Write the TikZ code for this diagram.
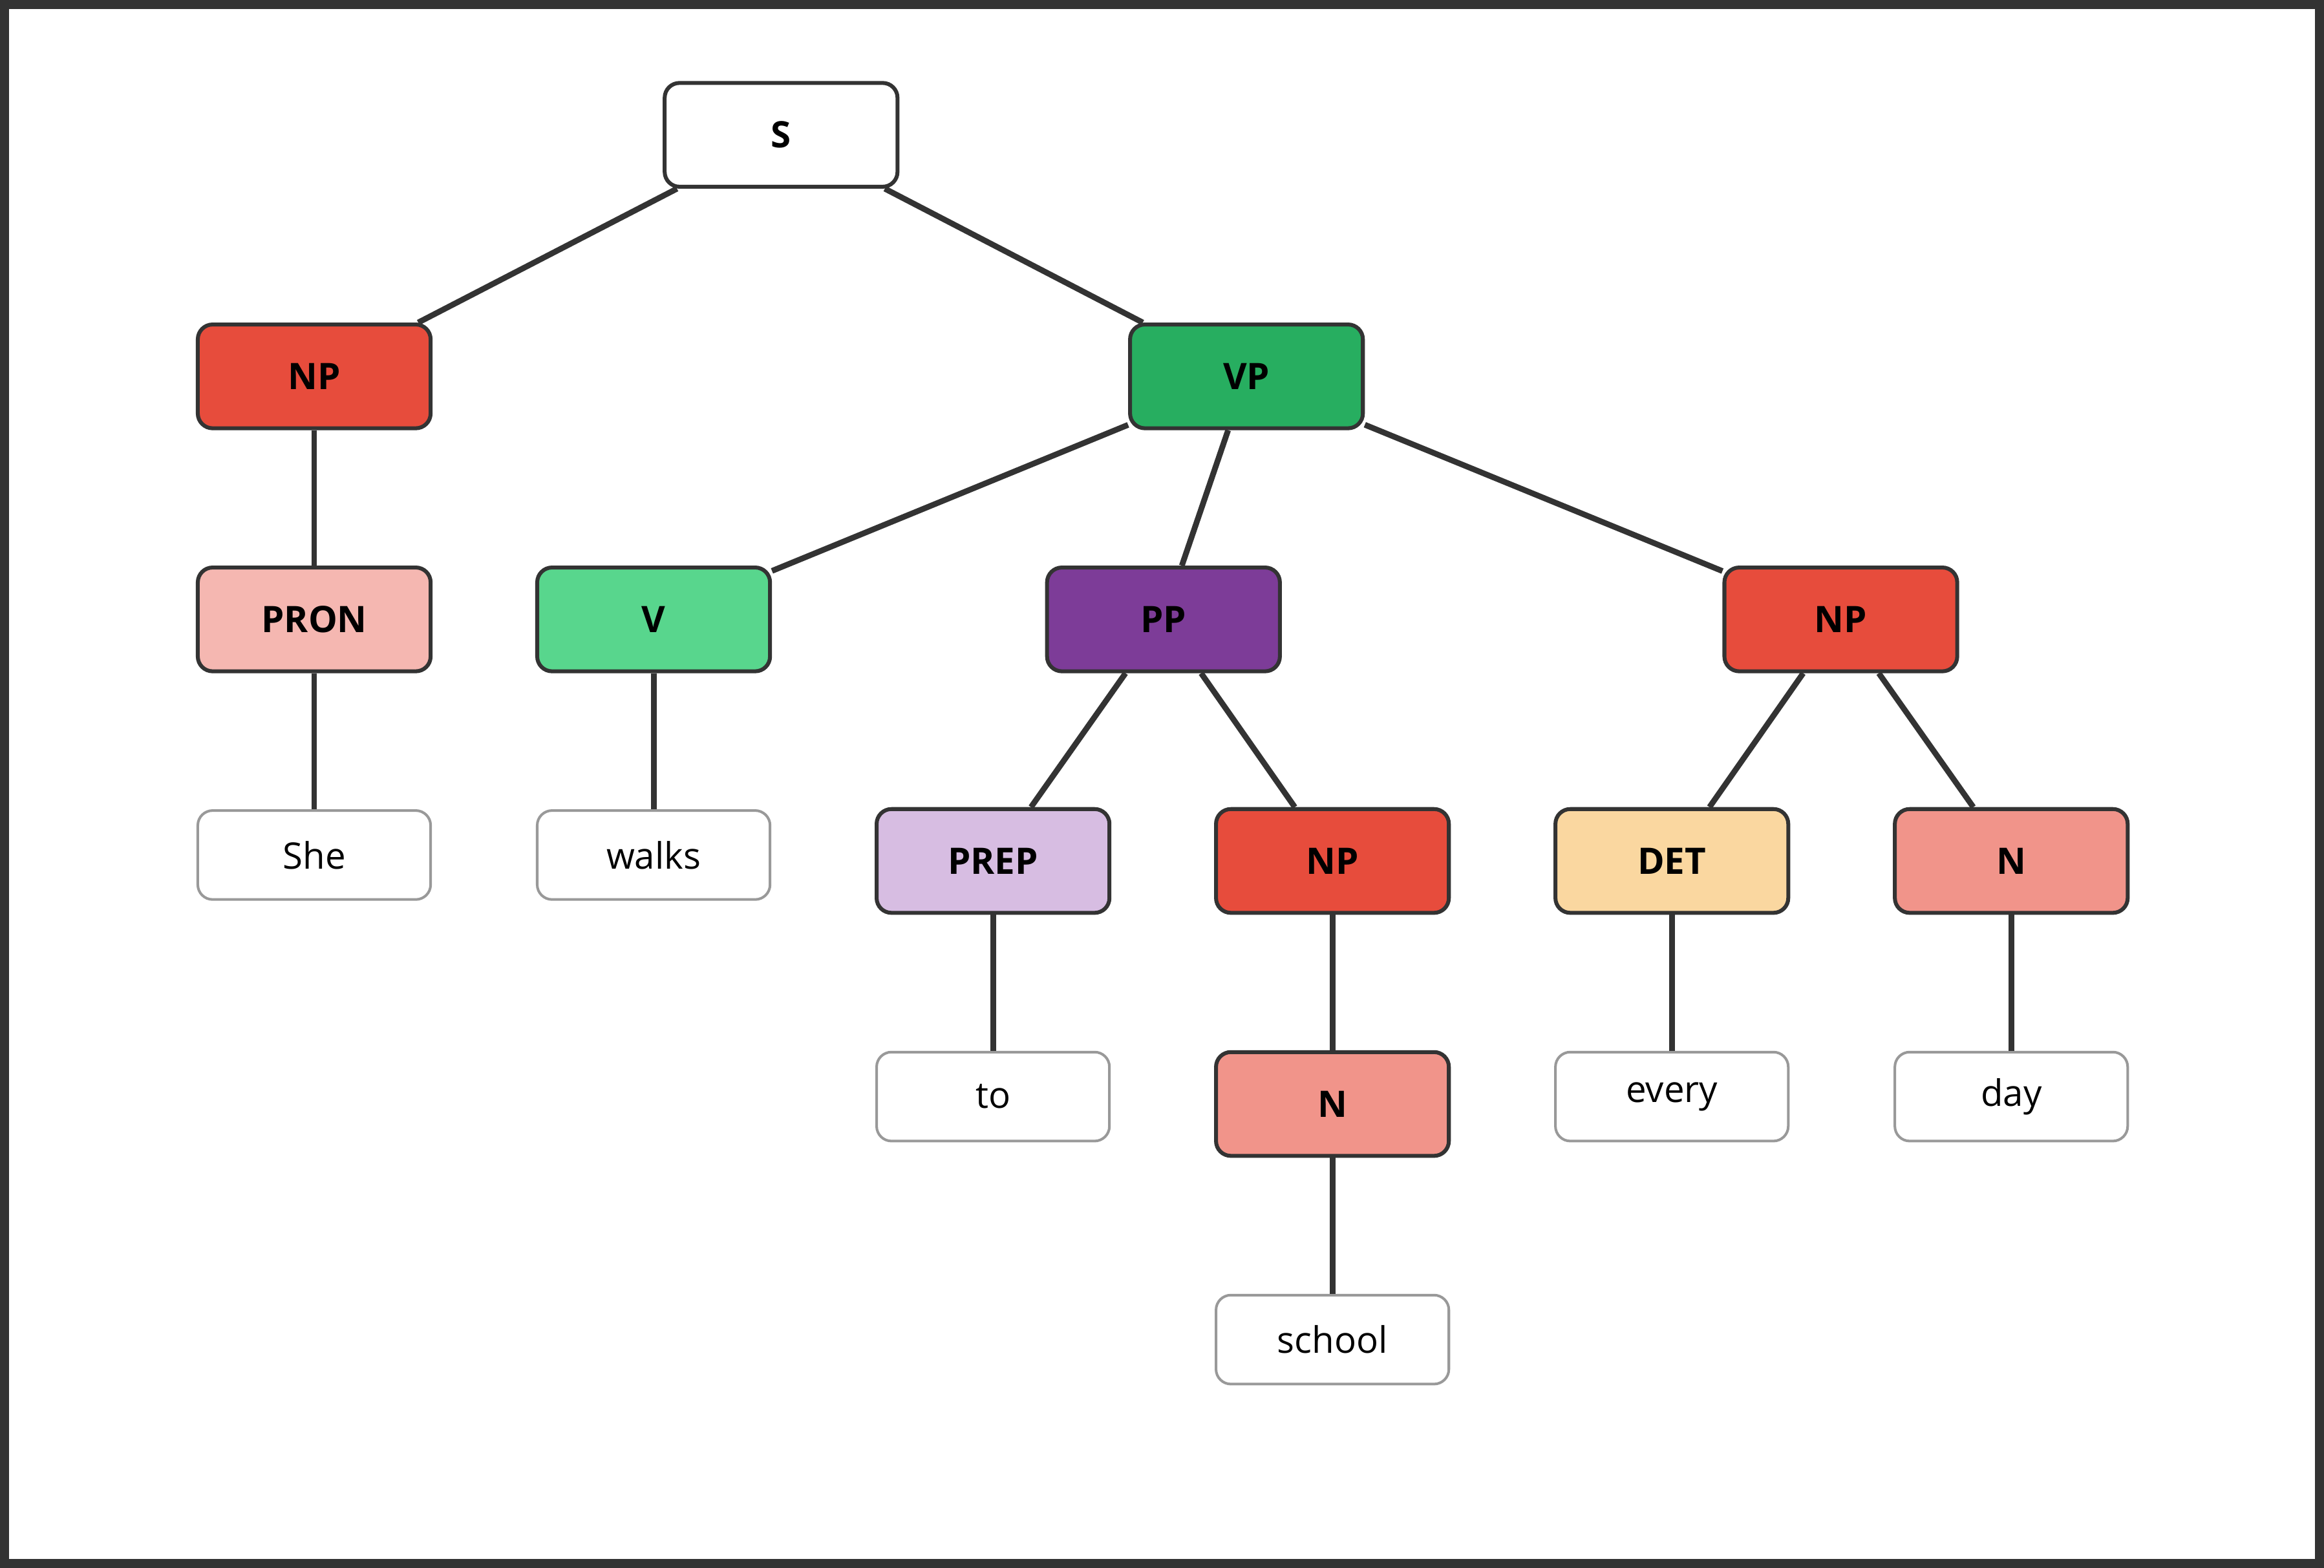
\documentclass[tikz,border=0pt]{standalone}
\usepackage{fontspec}
\setmainfont{Open Sans}
\definecolor{npc}{HTML}{E74C3C}
\definecolor{vpc}{HTML}{27AE60}
\definecolor{pronc}{HTML}{F5B7B1}
\definecolor{vc}{HTML}{58D68D}
\definecolor{ppc}{HTML}{7D3C98}
\definecolor{prepc}{HTML}{D7BDE2}
\definecolor{detc}{HTML}{FAD7A0}
\definecolor{nc}{HTML}{F1948A}
\definecolor{edgec}{HTML}{333333}
\begin{document}
\begin{tikzpicture}[x=0.01cm,y=-0.01cm,
  cat/.style={draw=edgec,line width=0.75pt,rounded corners=0.1cm,minimum width=1.57cm,minimum height=0.70cm,font=\fontsize{7}{8}\selectfont\bfseries,inner sep=0pt},
  leaf/.style={draw=black!40,line width=0.5pt,rounded corners=0.1cm,fill=white,minimum width=1.57cm,minimum height=0.60cm,font=\fontsize{7}{8}\selectfont,inner sep=0pt},
  e/.style={draw=edgec,line width=1.1pt}]
\draw[edgec,line width=1.7pt,fill=white] (3,3) rectangle (1565,1055);
\useasboundingbox (0,0) rectangle (1568,1058);
\node[cat,fill=white] (S) at (527,91) {S};
\node[cat,fill=npc] (NP1) at (212,254) {NP};
\node[cat,fill=vpc] (VP) at (841,254) {VP};
\node[cat,fill=pronc] (PRON) at (212,418) {PRON};
\node[cat,fill=vc] (V) at (441,418) {V};
\node[cat,fill=ppc] (PP) at (785,418) {PP};
\node[cat,fill=npc] (NP2) at (1242,418) {NP};
\node[leaf] (She) at (212,577) {She};
\node[leaf] (walks) at (441,577) {walks};
\node[cat,fill=prepc] (PREP) at (670,581) {PREP};
\node[cat,fill=npc] (NP3) at (899,581) {NP};
\node[cat,fill=detc] (DET) at (1128,581) {DET};
\node[cat,fill=nc] (N1) at (1357,581) {N};
\node[leaf] (to) at (670,740) {to};
\node[cat,fill=nc] (N2) at (899,745) {N};
\node[leaf] (every) at (1128,740) {every};
\node[leaf] (day) at (1357,740) {day};
\node[leaf] (school) at (899,904) {school};
\draw[e] (S) -- (NP1);
\draw[e] (S) -- (VP);
\draw[e] (NP1) -- (PRON);
\draw[e] (PRON) -- (She);
\draw[e] (VP) -- (V);
\draw[e] (VP) -- (PP);
\draw[e] (VP) -- (NP2);
\draw[e] (V) -- (walks);
\draw[e] (PP) -- (PREP);
\draw[e] (PP) -- (NP3);
\draw[e] (PREP) -- (to);
\draw[e] (NP3) -- (N2);
\draw[e] (N2) -- (school);
\draw[e] (NP2) -- (DET);
\draw[e] (NP2) -- (N1);
\draw[e] (DET) -- (every);
\draw[e] (N1) -- (day);
\end{tikzpicture}
\end{document}
